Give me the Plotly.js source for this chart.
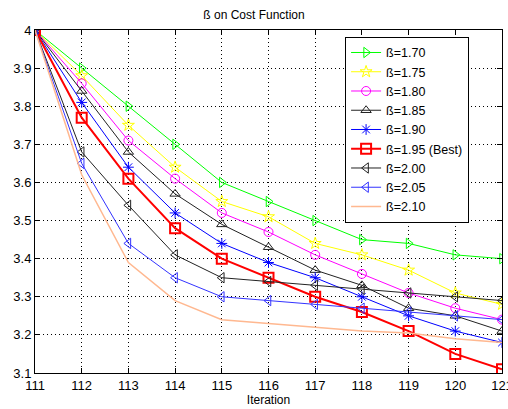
<!DOCTYPE html>
<html>
<head>
<meta charset="utf-8">
<script src="https://cdn.plot.ly/plotly-3.0.1.min.js"></script>
<style>html,body{margin:0;padding:0;background:#fff;overflow:hidden;}#chart{width:508px;height:409px;}</style>
</head>
<body>
<div id="chart"></div>
<script>
const iterations = [111,112,113,114,115,116,117,118,119,120,121];
const seriesNames = ["ß=1.70","ß=1.75","ß=1.80","ß=1.85","ß=1.90","ß=1.95 (Best)","ß=2.00","ß=2.05","ß=2.10"];
const b170 = [4, 3.90, 3.80, 3.70, 3.60, 3.55, 3.50, 3.45, 3.44, 3.41, 3.40];
const b175 = [4, 3.88, 3.75, 3.64, 3.55, 3.51, 3.44, 3.41, 3.37, 3.31, 3.28];
const b180 = [4, 3.86, 3.71, 3.61, 3.52, 3.47, 3.41, 3.36, 3.31, 3.27, 3.24];
const b185 = [4, 3.84, 3.68, 3.57, 3.49, 3.43, 3.37, 3.33, 3.27, 3.25, 3.21];
const b190 = [4, 3.81, 3.64, 3.52, 3.44, 3.39, 3.35, 3.30, 3.25, 3.21, 3.18];
const b195 = [4, 3.77, 3.61, 3.48, 3.40, 3.35, 3.30, 3.26, 3.21, 3.15, 3.11];
const b200 = [4, 3.68, 3.54, 3.41, 3.35, 3.34, 3.33, 3.32, 3.31, 3.30, 3.29];
const b205 = [4, 3.65, 3.44, 3.35, 3.30, 3.29, 3.28, 3.27, 3.26, 3.25, 3.24];
const b210 = [4, 3.62, 3.39, 3.29, 3.24, 3.23, 3.22, 3.21, 3.205, 3.19, 3.18];
const xTicks = [111,112,113,114,115,116,117,118,119,120,121];
const yTicks = [3.1,3.2,3.3,3.4,3.5,3.6,3.7,3.8,3.9,4];
const yTickText = ["3.1","3.2","3.3","3.4","3.5","3.6","3.7","3.8","3.9","4"];

const values = [b170,b175,b180,b185,b190,b195,b200,b205,b210];
const colors = ["#00ff00","#ffff00","#ff00ff","#222222","#0000ff","#ff0000","#222222","#3333ff","#ffb890"];
const symbols = ["triangle-right-open","star-open","circle-open","triangle-up-open","asterisk-open","square-open","triangle-left-open","triangle-left-open",null];
const widths = [1,1,1,1,1,2,1,1,1.5];

const traces = values.map((v,i)=>{
  const t = {
    x: iterations, y: v, name: seriesNames[i], type: 'scatter',
    mode: symbols[i] ? 'lines+markers' : 'lines',
    line: {color: colors[i], width: widths[i]}
  };
  if (symbols[i]) t.marker = {symbol: symbols[i], size: i===5?10:9, color: colors[i], line:{color: colors[i], width: i===5?2:1}};
  return t;
});

const axisCommon = {
  showline: true, linecolor: '#000', linewidth: 1, mirror: 'allticks',
  ticks: 'inside', ticklen: 5, tickcolor: '#000',
  showgrid: true, gridcolor: '#000', griddash: '1px,3px', gridwidth: 1,
  zeroline: false, ticklabeloverflow: 'allow',
  tickfont: {family: 'Liberation Sans, Arial', size: 13, color: '#000'}
};

const layout = {
  width: 508, height: 409,
  margin: {l: 35, r: 6, t: 30, b: 36},
  paper_bgcolor: '#fff', plot_bgcolor: '#fff',
  font: {family: 'Liberation Sans, Arial', size: 12, color: '#000'},
  title: {text: 'ß on Cost Function', font: {size: 12, family: 'Liberation Sans, Arial'}, x: 0.5, xanchor: 'center', y: 0.965, yanchor: 'middle'},
  xaxis: Object.assign({}, axisCommon, {range: [111, 121], tickmode: 'array', tickvals: xTicks,
    title: {text: 'Iteration', font: {size: 12}, standoff: 2}}),
  yaxis: Object.assign({}, axisCommon, {range: [3.1, 4], tickmode: 'array', tickvals: yTicks, ticktext: yTickText}),
  legend: {x: 0.664, y: 0.98, xanchor: 'left', yanchor: 'top', bgcolor: '#fff',
    bordercolor: '#000', borderwidth: 1, font: {size: 12.5, family: 'Liberation Sans, Arial'},
    tracegroupgap: 0},
  showlegend: true
};

Plotly.newPlot('chart', traces, layout, {displayModeBar: false, staticPlot: true});
</script>
</body>
</html>
